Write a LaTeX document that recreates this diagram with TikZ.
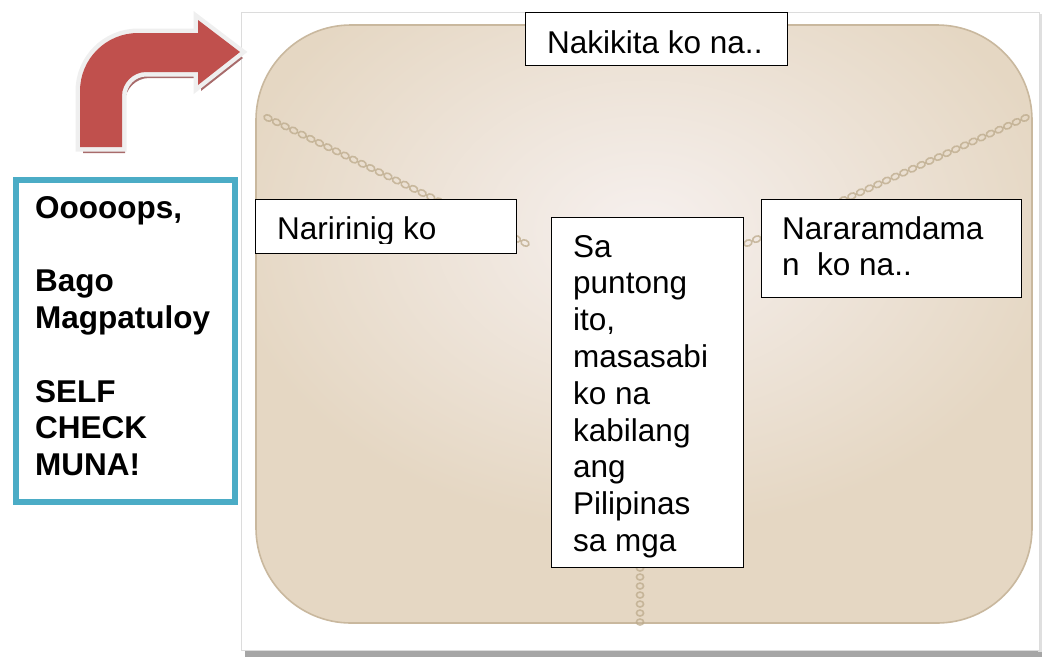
\documentclass[tikz,border=0pt]{standalone}
\usepackage{fontspec}
\setmainfont{Liberation Sans}
\usetikzlibrary{shadings,calc}
\definecolor{arrowred}{HTML}{C0504D}
\definecolor{arrowshadow}{HTML}{A86B6B}
\definecolor{arrowrim}{HTML}{EFEFEF}
\definecolor{teal}{HTML}{4BACC6}
\definecolor{beige}{HTML}{E5D7C3}
\definecolor{beigelight}{HTML}{F6F0EE}
\definecolor{beigeedge}{HTML}{C9B89E}
\definecolor{bead}{HTML}{BCAA8B}
\definecolor{framegray}{HTML}{DCDCDC}
\tikzset{
  boxrect/.style={draw=black, line width=1.4pt, fill=white, inner sep=0pt, anchor=north west},
  boxtext/.style={inner sep=0pt, anchor=base west, align=left, font=\fontsize{31.5pt}{36.8pt}\selectfont},
  boldtext/.style={boxtext, font=\fontsize{31.5pt}{36.8pt}\selectfont\bfseries},
  beadstyle/.style={draw=bead, line width=1.6pt, opacity=0.75}
}
\begin{document}
\begin{tikzpicture}[x=1pt,y=-1pt]
\useasboundingbox (0,0) rectangle (1043,657);
% frame of pasted picture
\fill[gray!70] (245,648) rectangle (1042,657);
\fill[gray!25] (1038,14) rectangle (1042,652);
\draw[framegray, fill=white, line width=1pt] (241,12) rectangle (1039,650);
% beige board
\path[fill=beige, rounded corners=95pt] (256,25) rectangle (1032,623);
\begin{scope}
  \clip[rounded corners=95pt] (256,25) rectangle (1032,623);
  \shade[inner color=beigelight, outer color=beige] (645,230) ellipse [x radius=420pt, y radius=300pt];
\end{scope}
\draw[beigeedge, line width=1.6pt, rounded corners=95pt] (256,25) rectangle (1032,623);
% chains
\foreach \t in {0,...,30} {
  \draw[beadstyle] ($(268,118)!\t/30!(525,243)$) ellipse [x radius=4.2pt, y radius=3pt, rotate=-26];
}
\foreach \t in {0,...,32} {
  \draw[beadstyle] ($(1025,118)!\t/32!(748,243)$) ellipse [x radius=4.2pt, y radius=3pt, rotate=24];
}
\foreach \t in {0,...,6} {
  \draw[beadstyle] ($(640,568)!\t/6!(640,622)$) ellipse [x radius=3.6pt, y radius=3pt];
}
% red arrow
\coordinate (arrowtip) at (240,52);
\begin{scope}[shift={(3,6)}]
\fill[arrowshadow] (80,147) -- (80,91) .. controls (80,59) and (106,33) .. (138,33)
  -- (198,33) -- (198,20) -- (240,52) -- (198,85) -- (198,72) -- (146,72)
  .. controls (133,72) and (122,83) .. (122,96) -- (122,147) -- cycle;
\end{scope}
\draw[arrowrim, line width=9pt, line join=miter, fill=arrowred] (80,147) -- (80,91) .. controls (80,59) and (106,33) .. (138,33)
  -- (198,33) -- (198,20) -- (arrowtip) -- (198,85) -- (198,72) -- (146,72)
  .. controls (133,72) and (122,83) .. (122,96) -- (122,147) -- cycle;
\fill[arrowred] (80,147) -- (80,91) .. controls (80,59) and (106,33) .. (138,33)
  -- (198,33) -- (198,20) -- (arrowtip) -- (198,85) -- (198,72) -- (146,72)
  .. controls (133,72) and (122,83) .. (122,96) -- (122,147) -- cycle;
% left teal box
\node[draw=teal, line width=6pt, fill=white, inner sep=0pt, anchor=north west, minimum width=219pt, minimum height=322pt] (oops) at (13,177) {};
\node[boldtext] (oopstext) at (35,475.6) {Ooooops,\\[36.8pt]Bago\\Magpatuloy\\[36.8pt]SELF\\CHECK\\MUNA!};
% top box
\node[boxrect, minimum width=262pt, minimum height=53pt] (see) at (525,12) {};
\node[boxtext] (seetext) at (547,53) {Nakikita ko na..};
% left box
\node[boxrect, minimum width=261pt, minimum height=54pt] (hear) at (255,199) {};
\begin{scope}
  \clip (255,199) rectangle (516,243.5);
  \node[boxtext] (heartext) at (277,239) {Naririnig ko};
\end{scope}
% right box
\node[boxrect, minimum width=260pt, minimum height=98pt] (feel) at (761,199) {};
\node[boxtext] (feeltext) at (782,275.8) {Nararamdama\\n~ ko na..};
% center box
\node[boxrect, minimum width=192pt, minimum height=350pt] (point) at (551,217) {};
\node[boxtext] (pointtext) at (573,551.4) {Sa\\puntong\\ito,\\masasabi\\ko na\\kabilang\\ang\\Pilipinas\\sa mga};
\end{tikzpicture}
\end{document}
